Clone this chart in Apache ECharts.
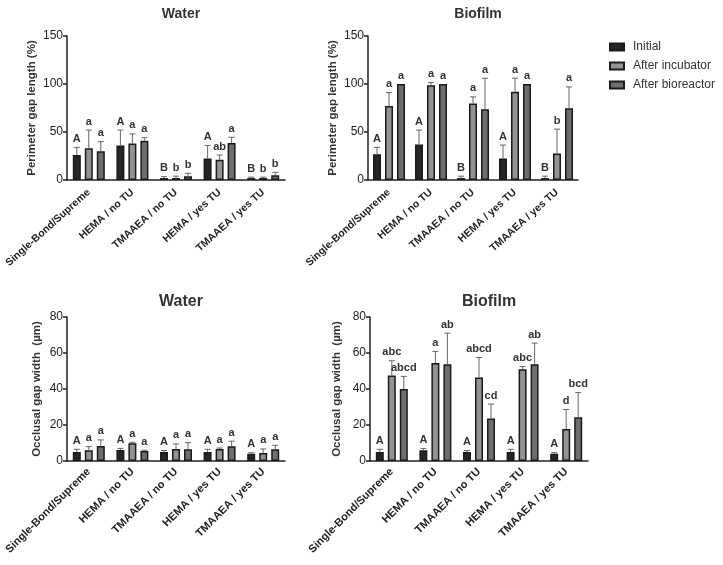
<!DOCTYPE html>
<html>
<head>
    <meta charset="utf-8"/>
    <script src="https://cdn.jsdelivr.net/npm/echarts@6/dist/echarts.min.js"></script>
    <style>html,body{margin:0;padding:0;background:#fff;}</style>
</head>
<body>
<div id="main" style="width:723px;height:565px;"></div>
<script type="text/javascript">
    var cats = ['Single-Bond/Supreme', 'HEMA / no TU', 'TMAAEA / no TU', 'HEMA / yes TU', 'TMAAEA / yes TU'];
    var groups = ['Initial', 'After incubator', 'After bioreactor'];

    // perimeter gap length (%), water
    var perWaterMean = [[26, 36, 2, 22.5, 2], [33, 38, 2, 21, 2], [30, 41, 4, 38.5, 5]];
    var perWaterErr  = [[34, 52, 3.5, 36, 3], [52, 48, 4, 26, 3], [40, 44, 7, 44.5, 8]];
    var perWaterLbl  = [['A', 'A', 'B', 'A', 'B'], ['a', 'a', 'b', 'ab', 'b'], ['a', 'a', 'b', 'a', 'b']];

    // perimeter gap length (%), biofilm
    var perBioMean = [[26.7, 37, 2, 22.5, 2], [77, 98.7, 79.7, 92, 27.7], [100, 100, 73.8, 100, 74.8]];
    var perBioErr  = [[34, 52, 4, 36.4, 4], [91, 101.5, 86.6, 106, 53], [100, 100, 106, 100, 97]];
    var perBioLbl  = [['A', 'A', 'B', 'A', 'B'], ['a', 'a', 'a', 'a', 'b'], ['a', 'a', 'a', 'a', 'a']];

    // occlusal gap width (µm), water
    var occWaterMean = [[5, 6.1, 5, 5, 4], [6, 9.8, 6.7, 6.7, 4.5], [8.4, 5.6, 6.5, 8.2, 6.5]];
    var occWaterErr  = [[6.5, 7, 5.8, 6.5, 4.6], [8, 10.4, 9.5, 7.2, 6.7], [11.7, 6, 10.2, 11, 8.7]];
    var occWaterLbl  = [['A', 'A', 'A', 'A', 'A'], ['a', 'a', 'a', 'a', 'a'], ['a', 'a', 'a', 'a', 'a']];

    // occlusal gap width (µm), biofilm
    var occBioMean = [[5, 6, 5, 5, 4], [47.5, 54.4, 46.4, 51, 17.8], [40, 53.8, 23.6, 53.8, 24.3]];
    var occBioErr  = [[6.5, 7, 5.8, 6.5, 4.6], [55.7, 60.9, 57.5, 52.5, 28.6], [47, 71, 31.6, 65.5, 38]];
    var occBioLbl  = [['A', 'A', 'A', 'A', 'A'], ['abc', 'a', 'abcd', 'abc', 'd'], ['abcd', 'ab', 'cd', 'ab', 'bcd']];

    var fills = ['#252525', '#939393', '#6e6e6e'];
    var font = 'Liberation Sans, Arial, sans-serif';

    var chart = echarts.init(document.getElementById('main'));

    var panels = [
        { title: 'Water',   tx: 176, ty: 2,   tsize: 14, grid: { left: 67,  top: 36,  width: 218, height: 144 }, max: 150, step: 50, name: 'Perimeter gap length (%)', gap: 29, lsize: 10.5, rot: 42, mg: 11, mean: perWaterMean, err: perWaterErr, lbl: perWaterLbl },
        { title: 'Biofilm', tx: 473, ty: 2,   tsize: 14, grid: { left: 368, top: 36,  width: 210, height: 144 }, max: 150, step: 50, name: 'Perimeter gap length (%)', gap: 29, lsize: 10.5, rot: 42, mg: 11, mean: perBioMean, err: perBioErr, lbl: perBioLbl },
        { title: 'Water',   tx: 176, ty: 289, tsize: 16, grid: { left: 67,  top: 317, width: 218, height: 144 }, max: 80, step: 20, name: 'Occlusal gap width  (µm)', gap: 24, lsize: 11, rot: 45, mg: 9, mean: occWaterMean, err: occWaterErr, lbl: occWaterLbl },
        { title: 'Biofilm', tx: 484, ty: 289, tsize: 16, grid: { left: 370, top: 317, width: 218, height: 144 }, max: 80, step: 20, name: 'Occlusal gap width  (µm)', gap: 27, lsize: 11, rot: 45, mg: 9, mean: occBioMean, err: occBioErr, lbl: occBioLbl }
    ];

    var titles = [], grids = [], xAxes = [], yAxes = [], series = [];

    panels.forEach(function (p, gi) {
        titles.push({
            text: p.title, left: p.tx, top: p.ty, textAlign: 'center',
            textStyle: { fontFamily: font, fontSize: p.tsize, fontWeight: 'bold', color: '#333' }
        });
        grids.push(p.grid);
        xAxes.push({
            type: 'category', gridIndex: gi, data: cats,
            axisLine: { lineStyle: { color: '#222', width: 1.5 } },
            axisTick: { alignWithLabel: true, length: 4, lineStyle: { color: '#222', width: 1.5 } },
            axisLabel: { interval: 0, rotate: p.rot, margin: p.mg, fontFamily: font, fontSize: p.lsize, fontWeight: 'bold', color: '#222' }
        });
        yAxes.push({
            type: 'value', gridIndex: gi, min: 0, max: p.max, interval: p.step,
            name: p.name, nameLocation: 'middle', nameGap: p.gap,
            nameTextStyle: { fontFamily: font, fontSize: 11.5, fontWeight: 'bold', color: '#333' },
            axisLine: { show: true, lineStyle: { color: '#222', width: 1.5 } },
            axisTick: { show: true, length: 4, lineStyle: { color: '#222', width: 1.5 } },
            axisLabel: { margin: 4, fontFamily: font, fontSize: 12, color: '#222' },
            splitLine: { show: false }
        });

        groups.forEach(function (g, k) {
            series.push({
                name: g, type: 'bar', xAxisIndex: gi, yAxisIndex: gi,
                barWidth: 8, barGap: '50%',
                itemStyle: { color: fills[k], borderColor: '#1a1a1a', borderWidth: 1.5 },
                data: p.mean[k]
            });
            var labels = p.lbl[k];
            series.push({
                type: 'custom', xAxisIndex: gi, yAxisIndex: gi, clip: false, z: 5,
                data: p.mean[k].map(function (v, i) { return [i, v, p.err[k][i]]; }),
                renderItem: function (params, api) {
                    var i = api.value(0);
                    var base = api.coord([i, api.value(1)]);
                    var top = api.coord([i, api.value(2)]);
                    var x = base[0] + (k - 1) * 12;
                    var children = [];
                    if (top[1] < base[1] - 0.5) {
                        children.push({ type: 'line', shape: { x1: x, y1: base[1], x2: x, y2: top[1] }, style: { stroke: '#666', lineWidth: 1 } });
                        children.push({ type: 'line', shape: { x1: x - 3, y1: top[1], x2: x + 3, y2: top[1] }, style: { stroke: '#666', lineWidth: 1 } });
                    }
                    children.push({
                        type: 'text',
                        style: {
                            x: x, y: top[1] - 3, text: labels[params.dataIndex],
                            align: 'center', verticalAlign: 'bottom',
                            font: 'bold 11px ' + font, fill: '#333'
                        }
                    });
                    return { type: 'group', children: children };
                }
            });
        });
    });

    var option = {
        animation: false,
        backgroundColor: '#fff',
        title: titles,
        legend: {
            data: groups, orient: 'vertical', left: 604, top: 36,
            icon: 'rect', itemWidth: 14, itemHeight: 7, itemGap: 7, selectedMode: false,
            textStyle: { fontFamily: font, fontSize: 12, color: '#333', padding: [0, 0, 0, 4] }
        },
        grid: grids,
        xAxis: xAxes,
        yAxis: yAxes,
        series: series
    };

    chart.setOption(option);
</script>
</body>
</html>
